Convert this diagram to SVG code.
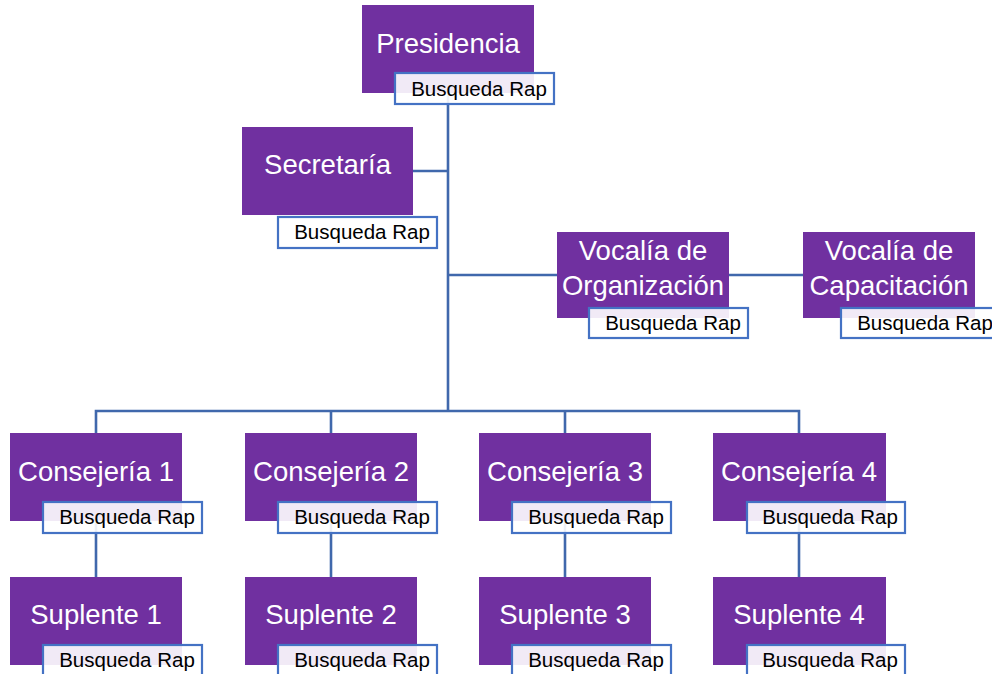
<svg xmlns="http://www.w3.org/2000/svg" width="992" height="674" viewBox="0 0 992 674">
<style>
.box{fill:#7030A0}
.lbl{fill:#ffffff;fill-opacity:0.9;stroke:#4472C4;stroke-width:2.2}
.t{font-family:"Liberation Sans",Arial,sans-serif;font-size:27.5px;fill:#ffffff;text-anchor:middle}
.lt{font-family:"Liberation Sans",Arial,sans-serif;font-size:20.5px;fill:#000000;text-anchor:middle}
.c{stroke:#4068AC;stroke-width:2.6;fill:none}
</style>
<rect width="992" height="674" fill="#ffffff"/>
<g id="connectors">
<path class="c" d="M448 93 V411"/>
<path class="c" d="M413 171 H448"/>
<path class="c" d="M448 275 H557"/>
<path class="c" d="M729 275 H803"/>
<path class="c" d="M96 433 V411 H799 V433"/>
<path class="c" d="M331 411 V433"/>
<path class="c" d="M565 411 V433"/>
<path class="c" d="M96 521 V577"/>
<path class="c" d="M331 521 V577"/>
<path class="c" d="M565 521 V577"/>
<path class="c" d="M799 521 V577"/>
</g>
<g id="presidencia">
<rect class="box" x="362" y="5" width="172" height="88"/>
<text class="t" x="448" y="53">Presidencia</text>
<rect class="lbl" x="395" y="73" width="159" height="31"/>
<text class="lt" x="479" y="96">Busqueda Rap</text>
</g>
<g id="secretaria">
<rect class="box" x="242" y="127" width="171" height="88"/>
<text class="t" x="327.5" y="174">Secretaría</text>
<rect class="lbl" x="278" y="217" width="159" height="31"/>
<text class="lt" x="362" y="239">Busqueda Rap</text>
</g>
<g id="vocalia-organizacion">
<rect class="box" x="557" y="232" width="172" height="86"/>
<text class="t" x="643" y="260">Vocalía de</text>
<text class="t" x="643" y="295">Organización</text>
<rect class="lbl" x="589" y="308" width="159" height="30"/>
<text class="lt" x="673" y="330">Busqueda Rap</text>
</g>
<g id="vocalia-capacitacion">
<rect class="box" x="803" y="232" width="172" height="86"/>
<text class="t" x="889" y="260">Vocalía de</text>
<text class="t" x="889" y="295">Capacitación</text>
<rect class="lbl" x="841" y="308" width="159" height="30"/>
<text class="lt" x="925" y="330">Busqueda Rap</text>
</g>
<g id="consejeria-1">
<rect class="box" x="10" y="433" width="172" height="88"/>
<text class="t" x="96" y="481">Consejería 1</text>
<rect class="lbl" x="43" y="502" width="159" height="31"/>
<text class="lt" x="127" y="524">Busqueda Rap</text>
</g>
<g id="consejeria-2">
<rect class="box" x="245" y="433" width="172" height="88"/>
<text class="t" x="331" y="481">Consejería 2</text>
<rect class="lbl" x="278" y="502" width="159" height="31"/>
<text class="lt" x="362" y="524">Busqueda Rap</text>
</g>
<g id="consejeria-3">
<rect class="box" x="479" y="433" width="172" height="88"/>
<text class="t" x="565" y="481">Consejería 3</text>
<rect class="lbl" x="512" y="502" width="159" height="31"/>
<text class="lt" x="596" y="524">Busqueda Rap</text>
</g>
<g id="consejeria-4">
<rect class="box" x="713" y="433" width="173" height="88"/>
<text class="t" x="799" y="481">Consejería 4</text>
<rect class="lbl" x="747" y="502" width="158" height="31"/>
<text class="lt" x="830" y="524">Busqueda Rap</text>
</g>
<g id="suplente-1">
<rect class="box" x="10" y="577" width="172" height="88"/>
<text class="t" x="96" y="624">Suplente 1</text>
<rect class="lbl" x="43" y="645" width="159" height="31"/>
<text class="lt" x="127" y="667">Busqueda Rap</text>
</g>
<g id="suplente-2">
<rect class="box" x="245" y="577" width="172" height="88"/>
<text class="t" x="331" y="624">Suplente 2</text>
<rect class="lbl" x="278" y="645" width="159" height="31"/>
<text class="lt" x="362" y="667">Busqueda Rap</text>
</g>
<g id="suplente-3">
<rect class="box" x="479" y="577" width="172" height="88"/>
<text class="t" x="565" y="624">Suplente 3</text>
<rect class="lbl" x="512" y="645" width="159" height="31"/>
<text class="lt" x="596" y="667">Busqueda Rap</text>
</g>
<g id="suplente-4">
<rect class="box" x="713" y="577" width="173" height="88"/>
<text class="t" x="799" y="624">Suplente 4</text>
<rect class="lbl" x="747" y="645" width="158" height="31"/>
<text class="lt" x="830" y="667">Busqueda Rap</text>
</g>
</svg>
